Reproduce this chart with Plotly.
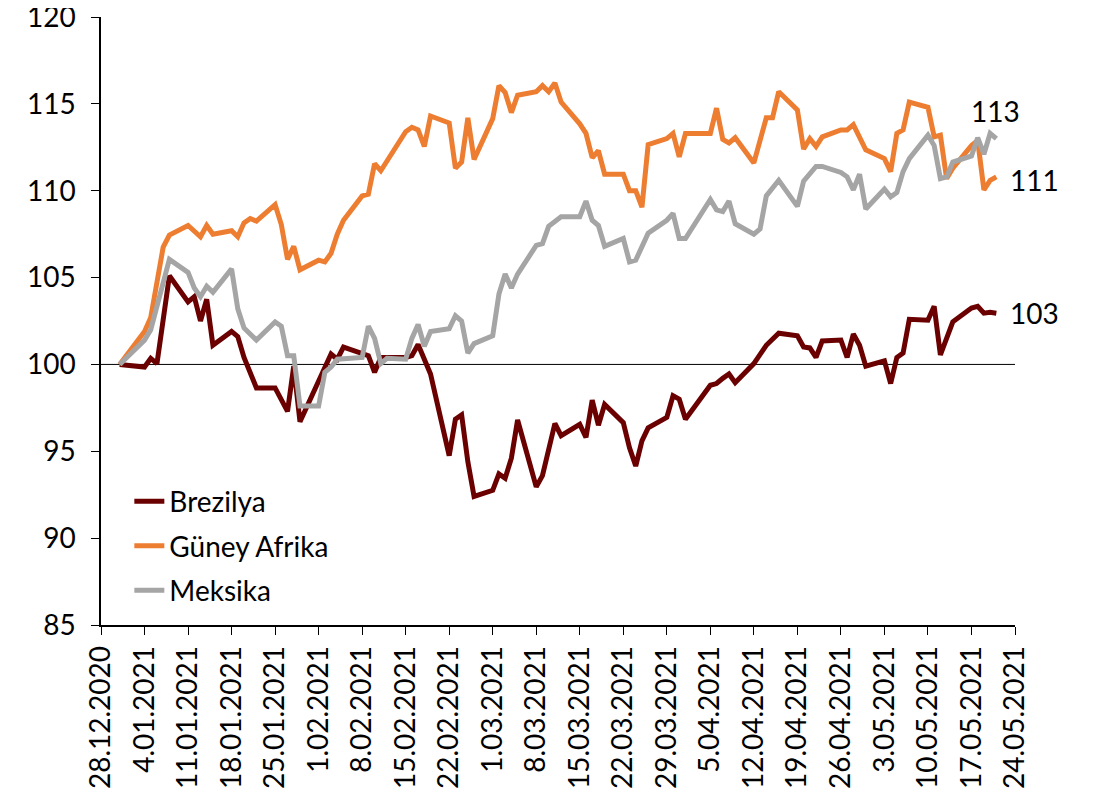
import plotly.graph_objects as go

# ---------------- data ----------------
brezilya_dates = [
    "2020-12-31", "2021-01-04", "2021-01-05", "2021-01-06", "2021-01-08", "2021-01-11",
    "2021-01-12", "2021-01-13", "2021-01-14", "2021-01-15", "2021-01-18", "2021-01-19",
    "2021-01-20", "2021-01-22", "2021-01-25", "2021-01-27", "2021-01-28", "2021-01-29",
    "2021-02-03", "2021-02-04", "2021-02-05", "2021-02-09", "2021-02-10", "2021-02-11",
    "2021-02-15", "2021-02-16", "2021-02-17", "2021-02-19", "2021-02-22", "2021-02-23",
    "2021-02-24", "2021-02-25", "2021-02-26", "2021-03-01", "2021-03-02", "2021-03-03",
    "2021-03-04", "2021-03-05", "2021-03-08", "2021-03-09", "2021-03-11", "2021-03-12",
    "2021-03-15", "2021-03-16", "2021-03-17", "2021-03-18", "2021-03-19", "2021-03-22",
    "2021-03-23", "2021-03-24", "2021-03-25", "2021-03-26", "2021-03-29", "2021-03-30",
    "2021-03-31", "2021-04-01", "2021-04-05", "2021-04-06", "2021-04-07", "2021-04-08",
    "2021-04-09", "2021-04-12", "2021-04-14", "2021-04-16", "2021-04-19", "2021-04-20",
    "2021-04-21", "2021-04-22", "2021-04-23", "2021-04-26", "2021-04-27", "2021-04-28",
    "2021-04-29", "2021-04-30", "2021-05-03", "2021-05-04", "2021-05-05", "2021-05-06",
    "2021-05-07", "2021-05-10", "2021-05-11", "2021-05-12", "2021-05-14", "2021-05-17",
    "2021-05-18", "2021-05-19", "2021-05-20", "2021-05-21",
]
brezilya_values = [
    100.0, 99.85, 100.35, 100.05, 105.1, 103.6,
    103.9, 102.5, 103.75, 101.1, 101.9, 101.6,
    100.4, 98.65, 98.65, 97.3, 99.9, 96.7,
    100.6, 100.3, 101.0, 100.5, 99.55, 100.4,
    100.4, 100.5, 101.15, 99.45, 94.75, 96.85,
    97.1, 94.4, 92.4, 92.75, 93.7, 93.45,
    94.6, 96.8, 92.95, 93.6, 96.6, 95.9,
    96.55, 95.8, 97.95, 96.5, 97.7, 96.65,
    95.2, 94.15, 95.6, 96.35, 96.95, 98.2,
    98.0, 96.85, 98.8, 98.9, 99.2, 99.45,
    98.95, 100.05, 101.1, 101.8, 101.65, 101.0,
    100.95, 100.4, 101.35, 101.4, 100.4, 101.75,
    101.1, 99.9, 100.2, 98.9, 100.4, 100.65,
    102.6, 102.55, 103.35, 100.55, 102.45, 103.25,
    103.35, 102.95, 103.0, 102.95,
]

guney_afrika_dates = [
    "2020-12-31", "2021-01-04", "2021-01-05", "2021-01-06", "2021-01-07", "2021-01-08",
    "2021-01-11", "2021-01-13", "2021-01-14", "2021-01-15", "2021-01-18", "2021-01-19",
    "2021-01-20", "2021-01-21", "2021-01-22", "2021-01-25", "2021-01-26", "2021-01-27",
    "2021-01-28", "2021-01-29", "2021-02-01", "2021-02-02", "2021-02-03", "2021-02-04",
    "2021-02-05", "2021-02-08", "2021-02-09", "2021-02-10", "2021-02-11", "2021-02-15",
    "2021-02-16", "2021-02-17", "2021-02-18", "2021-02-19", "2021-02-22", "2021-02-23",
    "2021-02-24", "2021-02-25", "2021-02-26", "2021-03-01", "2021-03-02", "2021-03-03",
    "2021-03-04", "2021-03-05", "2021-03-08", "2021-03-09", "2021-03-10", "2021-03-11",
    "2021-03-12", "2021-03-15", "2021-03-16", "2021-03-17", "2021-03-18", "2021-03-19",
    "2021-03-22", "2021-03-23", "2021-03-24", "2021-03-25", "2021-03-26", "2021-03-29",
    "2021-03-30", "2021-03-31", "2021-04-01", "2021-04-05", "2021-04-06", "2021-04-07",
    "2021-04-08", "2021-04-09", "2021-04-12", "2021-04-14", "2021-04-15", "2021-04-16",
    "2021-04-19", "2021-04-20", "2021-04-21", "2021-04-22", "2021-04-23", "2021-04-26",
    "2021-04-27", "2021-04-28", "2021-04-29", "2021-04-30", "2021-05-03", "2021-05-04",
    "2021-05-05", "2021-05-06", "2021-05-07", "2021-05-10", "2021-05-11", "2021-05-12",
    "2021-05-13", "2021-05-14", "2021-05-17", "2021-05-18", "2021-05-19", "2021-05-20",
    "2021-05-21",
]
guney_afrika_values = [
    100.0, 101.9, 102.7, 104.6, 106.75, 107.45,
    108.0, 107.35, 108.0, 107.5, 107.7, 107.35,
    108.15, 108.4, 108.25, 109.2, 108.05, 106.05,
    106.8, 105.45, 106.0, 105.9, 106.4, 107.5,
    108.3, 109.7, 109.8, 111.55, 111.15, 113.4,
    113.65, 113.5, 112.55, 114.3, 113.9, 111.3,
    111.65, 114.2, 111.8, 114.15, 116.05, 115.65,
    114.5, 115.5, 115.7, 116.05, 115.7, 116.2,
    115.1, 113.85, 113.3, 111.9, 112.3, 110.95,
    110.95, 110.0, 110.0, 109.05, 112.65, 113.0,
    113.3, 111.95, 113.3, 113.3, 114.75, 112.95,
    112.75, 113.05, 111.6, 114.2, 114.2, 115.7,
    114.65, 112.4, 113.0, 112.55, 113.1, 113.5,
    113.5, 113.8, 113.1, 112.35, 111.85, 111.1,
    113.3, 113.5, 115.1, 114.8, 113.1, 113.2,
    110.7, 111.3, 112.6, 112.9, 110.05, 110.6,
    110.8,
]

meksika_dates = [
    "2020-12-31", "2021-01-04", "2021-01-05", "2021-01-08", "2021-01-11", "2021-01-12",
    "2021-01-13", "2021-01-14", "2021-01-15", "2021-01-18", "2021-01-19", "2021-01-20",
    "2021-01-22", "2021-01-25", "2021-01-26", "2021-01-27", "2021-01-28", "2021-01-29",
    "2021-02-01", "2021-02-02", "2021-02-03", "2021-02-04", "2021-02-08", "2021-02-09",
    "2021-02-10", "2021-02-11", "2021-02-12", "2021-02-15", "2021-02-16", "2021-02-17",
    "2021-02-18", "2021-02-19", "2021-02-22", "2021-02-23", "2021-02-24", "2021-02-25",
    "2021-02-26", "2021-03-01", "2021-03-02", "2021-03-03", "2021-03-04", "2021-03-05",
    "2021-03-08", "2021-03-09", "2021-03-10", "2021-03-12", "2021-03-15", "2021-03-16",
    "2021-03-17", "2021-03-18", "2021-03-19", "2021-03-22", "2021-03-23", "2021-03-24",
    "2021-03-26", "2021-03-29", "2021-03-30", "2021-03-31", "2021-04-01", "2021-04-05",
    "2021-04-06", "2021-04-07", "2021-04-08", "2021-04-09", "2021-04-12", "2021-04-13",
    "2021-04-14", "2021-04-16", "2021-04-19", "2021-04-20", "2021-04-22", "2021-04-23",
    "2021-04-26", "2021-04-27", "2021-04-28", "2021-04-29", "2021-04-30", "2021-05-03",
    "2021-05-04", "2021-05-05", "2021-05-06", "2021-05-07", "2021-05-10", "2021-05-11",
    "2021-05-12", "2021-05-13", "2021-05-14", "2021-05-17", "2021-05-18", "2021-05-19",
    "2021-05-20", "2021-05-21",
]
meksika_values = [
    100.0, 101.4, 102.0, 106.05, 105.3, 104.4,
    103.9, 104.5, 104.15, 105.5, 103.2, 102.1,
    101.4, 102.45, 102.2, 100.5, 100.5, 97.6,
    97.6, 99.55, 99.85, 100.3, 100.4, 102.2,
    101.5, 100.05, 100.35, 100.3, 101.5, 102.3,
    101.05, 101.9, 102.05, 102.8, 102.5, 100.65,
    101.2, 101.65, 104.05, 105.2, 104.4, 105.2,
    106.85, 106.95, 107.95, 108.5, 108.5, 109.4,
    108.3, 108.0, 106.8, 107.25, 105.9, 106.0,
    107.55, 108.3, 108.7, 107.25, 107.25, 109.5,
    108.9, 108.8, 109.4, 108.1, 107.5, 107.8,
    109.7, 110.6, 109.1, 110.55, 111.4, 111.4,
    111.05, 110.8, 110.05, 110.95, 108.95, 110.1,
    109.65, 109.9, 111.1, 111.85, 113.2, 112.6,
    110.7, 110.8, 111.65, 112.0, 113.05, 112.1,
    113.3, 113.0,
]

series_names = ["Brezilya", "Güney Afrika", "Meksika"]

tick_dates = [
    "2020-12-28", "2021-01-04", "2021-01-11", "2021-01-18", "2021-01-25", "2021-02-01",
    "2021-02-08", "2021-02-15", "2021-02-22", "2021-03-01", "2021-03-08", "2021-03-15",
    "2021-03-22", "2021-03-29", "2021-04-05", "2021-04-12", "2021-04-19", "2021-04-26",
    "2021-05-03", "2021-05-10", "2021-05-17", "2021-05-24",
]
tick_labels = [
    "28.12.2020", "4.01.2021", "11.01.2021", "18.01.2021", "25.01.2021", "1.02.2021",
    "8.02.2021", "15.02.2021", "22.02.2021", "1.03.2021", "8.03.2021", "15.03.2021",
    "22.03.2021", "29.03.2021", "5.04.2021", "12.04.2021", "19.04.2021", "26.04.2021",
    "3.05.2021", "10.05.2021", "17.05.2021", "24.05.2021",
]
y_ticks = [85, 90, 95, 100, 105, 110, 115, 120]

# ---------------- styling ----------------
FONT = "Lato, 'Open Sans', sans-serif"
FS = 28
colors = ["#6B0000", "#ED7D31", "#A5A5A5"]
line_w = 5

fig = go.Figure()
all_dates = [brezilya_dates, guney_afrika_dates, meksika_dates]
all_values = [brezilya_values, guney_afrika_values, meksika_values]
for i, (name, xs, ys, c) in enumerate(zip(series_names, all_dates, all_values, colors)):
    fig.add_trace(go.Scatter(
        x=xs, y=ys, mode="lines", name=name,
        line=dict(color=c, width=line_w),
        legendgroup=f"g{i}",
    ))

# reference line at 100
fig.add_shape(type="line", xref="paper", x0=0, x1=1, yref="y", y0=100, y1=100,
              line=dict(color="black", width=1), layer="below")

# end labels
end_labels = [
    (brezilya_dates[-1], brezilya_values[-1], "left", 12, 0),
    (guney_afrika_dates[-1], guney_afrika_values[-1], "left", 12, -3),
    (meksika_dates[-1], meksika_values[-1], "center", -1, 28),
]
for x, y, anchor, xs, ys in end_labels:
    fig.add_annotation(x=x, y=y, text=f"{round(y)}", showarrow=False,
                       xanchor=anchor, yanchor="middle", xshift=xs, yshift=ys,
                       font=dict(family=FONT, size=FS, color="black"))

# the page body adds an 8px offset, so the figure is 8px smaller than the window
fig.update_layout(
    width=1086, height=786,
    margin=dict(l=93, r=79, t=9, b=169),
    paper_bgcolor="white", plot_bgcolor="white",
    font=dict(family=FONT, size=FS, color="black"),
    showlegend=True,
    legend=dict(x=0.031, y=0.244, xanchor="left", yanchor="top",
                bgcolor="rgba(0,0,0,0)", traceorder="grouped",
                tracegroupgap=5, font=dict(family=FONT, size=FS, color="black")),
    xaxis=dict(
        type="date", range=["2020-12-28", "2021-05-24"], automargin=False,
        tickmode="array", tickvals=tick_dates, ticktext=tick_labels,
        tickangle=-90, ticks="outside", ticklen=8, tickwidth=1, tickcolor="black",
        showline=True, linecolor="black", linewidth=1.5,
        showgrid=False, zeroline=False, ticklabeloverflow="allow",
        tickfont=dict(family=FONT, size=FS, color="black"),
    ),
    yaxis=dict(
        range=[85, 120], tickmode="array", tickvals=y_ticks, automargin=False,
        ticks="outside", ticklen=8, tickwidth=1, tickcolor="black",
        showline=True, linecolor="black", linewidth=1.5,
        showgrid=False, zeroline=False, ticklabelstandoff=10,
        ticklabeloverflow="allow",
        tickfont=dict(family=FONT, size=FS, color="black"),
    ),
)

fig.write_html("out.html")
